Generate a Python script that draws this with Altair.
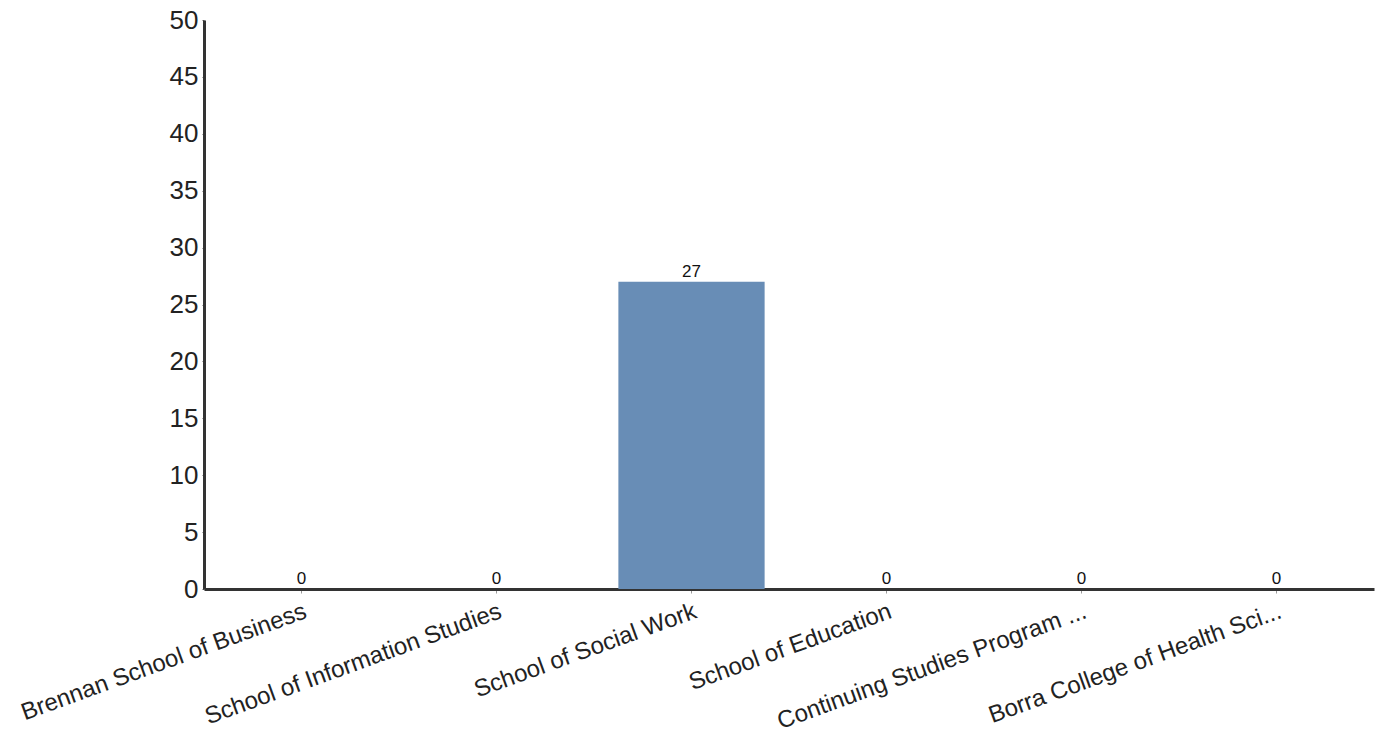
import altair as alt
import pandas as pd

categories = [
    "Brennan School of Business",
    "School of Information Studies",
    "School of Social Work",
    "School of Education",
    "Continuing Studies Program ...",
    "Borra College of Health Sci...",
]
values = [0, 0, 27, 0, 0, 0]

df = pd.DataFrame({"cat": categories, "val": values})

x = alt.X(
    "cat:N",
    sort=categories,
    title=None,
    scale=alt.Scale(paddingInner=0.25, paddingOuter=0.125),
    axis=alt.Axis(
        labelAngle=-20,
        labelFontSize=24,
        labelFont="Liberation Sans",
        labelColor="#222222",
        labelLimit=0,
        labelPadding=6,
        domainColor="#333333",
        domainWidth=3,
        tickColor="#999999",
        tickSize=4,
        grid=False,
    ),
)
y = alt.Y(
    "val:Q",
    title=None,
    scale=alt.Scale(domain=[0, 50], nice=False),
    axis=alt.Axis(
        values=list(range(0, 51, 5)),
        labelFontSize=26,
        labelFont="Liberation Sans",
        labelColor="#222222",
        labelPadding=4,
        domainColor="#333333",
        domainWidth=3,
        tickColor="#666666",
        tickSize=2,
        grid=False,
    ),
)

bars = alt.Chart(df).mark_bar(color="#688db6").encode(x=x, y=y)
text = alt.Chart(df).mark_text(
    dy=-10, fontSize=17, font="Liberation Sans", color="#111111"
).encode(x=alt.X("cat:N", sort=categories), y="val:Q", text="val:Q")

chart = (
    alt.layer(bars, text)
    .properties(
        width=1170,
        height=569,
        autosize=alt.AutoSizeParams(type="none"),
        padding={"left": 196, "top": 12, "right": 5, "bottom": 150},
    )
    .configure_view(stroke=None)
)

chart.save("out.html", embed_options={"renderer": "svg", "actions": False})
